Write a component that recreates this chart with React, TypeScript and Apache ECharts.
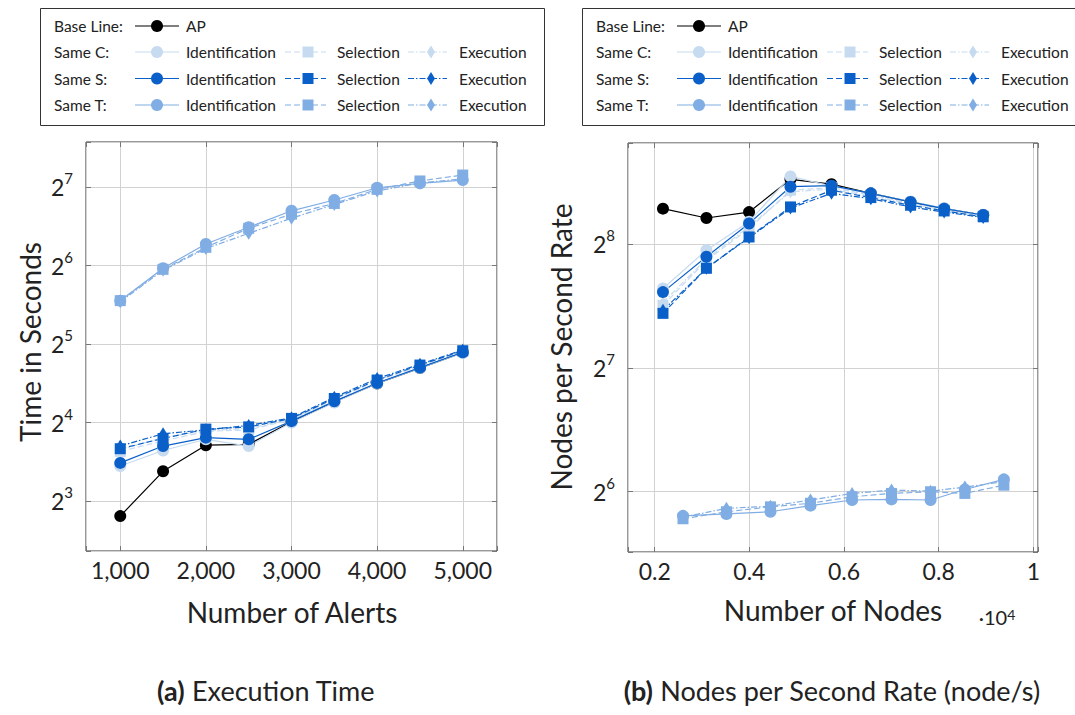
import React, { useEffect, useRef } from "react";
import * as echarts from "echarts";

// ---------- data ----------
const alerts = [1000, 1500, 2000, 2500, 3000, 3500, 4000, 4500, 5000];
const timeAP = [7.0, 10.4, 13.1, 13.2, 16.1, 19.2, 22.6, 25.9, 29.7];
const timeC_Id = [10.9, 12.5, 13.8, 13.0, 16.0, 19.1, 22.6, 25.9, 29.6];
const timeC_Sel = [12.4, 13.6, 14.8, 15.0, 16.4, 19.6, 23.1, 26.4, 30.0];
const timeC_Exe = [12.6, 14.0, 14.9, 15.2, 16.5, 19.8, 23.3, 26.6, 30.2];
const timeS_Id = [11.2, 13.0, 14.0, 13.8, 16.2, 19.3, 22.7, 26.0, 29.8];
const timeS_Sel = [12.7, 13.9, 15.1, 15.4, 16.6, 19.8, 23.3, 26.6, 30.2];
const timeS_Exe = [13.0, 14.5, 15.0, 15.6, 16.7, 20.0, 23.6, 26.8, 30.4];
const timeT_Id = [47.0, 62.6, 77.6, 89.9, 104, 114.4, 127.5, 132.6, 136.5];
const timeT_Sel = [47.0, 62.0, 75.3, 89.1, 101, 111, 125.7, 135.4, 142.7];
const timeT_Exe = [46.5, 61.5, 74.5, 85.2, 97.4, 110, 124, 133, 138];

const nodesCS = [2175, 3093, 3994, 4869, 5736, 6567, 7406, 8116, 8941];
const nodesT = [2598, 3516, 4446, 5292, 6171, 7004, 7829, 8554, 9378];
const rateAP = [313, 297, 307, 369, 359, 341, 325, 313, 302];
const rateC_Id = [200, 248, 291, 375, 355, 341, 326, 314, 302];
const rateC_Sel = [182, 234, 280, 347, 352, 338, 323, 311, 301];
const rateC_Exe = [185, 236, 283, 344, 349, 335, 322, 310, 300];
const rateS_Id = [196, 239, 288, 354, 356, 341, 325, 313, 302];
const rateS_Sel = [174, 224, 267, 316, 347, 333, 319, 309, 299];
const rateS_Exe = [177, 224, 266, 314, 341, 331, 316, 307, 298];
const rateT_Id = [55.9, 56.5, 57.2, 59.2, 61.1, 61.3, 61.1, 64.8, 68.6];
const rateT_Sel = [55.0, 57.2, 58.8, 60.0, 62.2, 63.4, 64.0, 63.4, 66.4];
const rateT_Exe = [55.5, 58.3, 59.0, 61.1, 63.4, 64.6, 64.2, 65.7, 67.7];

// ---------- styles ----------
const FONT = "Lato";
const TXT = "#222";
const COL_AP = "#000000";
const COL_C = "#c6dbf0";
const COL_S = "#0a60c8";
const COL_T = "#80ade3";
const DASH = [6, 3];
const DASHDOT = [6, 2, 1.5, 2];
const GRIDC = "#d2d2d2";

const supLabel = (v: number) => {
  const p = Math.log2(v);
  const r = Math.round(p);
  if (Math.abs(p - r) > 1e-3) return "";
  return `{b|2}{s|${r}}`;
};
const supRich = {
  b: { fontSize: 23, fontFamily: FONT, color: TXT, lineHeight: 33 },
  s: { fontSize: 15, fontFamily: FONT, color: TXT, verticalAlign: "top", lineHeight: 15 },
};

const pair = (xs: number[], ys: number[]) => xs.map((x, i) => [x, ys[i]]);

export default function App() {
  const ref = useRef<HTMLDivElement>(null);
  useEffect(() => {
    const chart = echarts.init(ref.current!, null, { renderer: "svg" });

    const mk = (
      name: string,
      data: number[][],
      color: string,
      symbol: string,
      dash: any,
      xi: number,
      yi: number
    ) => ({
      name,
      type: "line",
      xAxisIndex: xi,
      yAxisIndex: yi,
      data,
      symbol,
      symbolSize: symbol === "circle" ? 12 : symbol === "rect" ? 11 : [8, 13],
      showSymbol: true,
      itemStyle: { color },
      lineStyle: { color, width: 1.2, type: dash },
      emphasis: { disabled: true },
    });

    const tA = (ys: number[]) => pair(alerts, ys);
    const series = [
      mk("AP", tA(timeAP), COL_AP, "circle", "solid", 0, 0),
      mk("C Id", tA(timeC_Id), COL_C, "circle", "solid", 0, 0),
      mk("C Sel", tA(timeC_Sel), COL_C, "rect", DASH, 0, 0),
      mk("C Exe", tA(timeC_Exe), COL_C, "diamond", DASHDOT, 0, 0),
      mk("S Id", tA(timeS_Id), COL_S, "circle", "solid", 0, 0),
      mk("S Sel", tA(timeS_Sel), COL_S, "rect", DASH, 0, 0),
      mk("S Exe", tA(timeS_Exe), COL_S, "diamond", DASHDOT, 0, 0),
      mk("T Id", tA(timeT_Id), COL_T, "circle", "solid", 0, 0),
      mk("T Sel", tA(timeT_Sel), COL_T, "rect", DASH, 0, 0),
      mk("T Exe", tA(timeT_Exe), COL_T, "diamond", DASHDOT, 0, 0),

      mk("AP r", pair(nodesCS, rateAP), COL_AP, "circle", "solid", 2, 2),
      mk("C Id r", pair(nodesCS, rateC_Id), COL_C, "circle", "solid", 2, 2),
      mk("C Sel r", pair(nodesCS, rateC_Sel), COL_C, "rect", DASH, 2, 2),
      mk("C Exe r", pair(nodesCS, rateC_Exe), COL_C, "diamond", DASHDOT, 2, 2),
      mk("S Id r", pair(nodesCS, rateS_Id), COL_S, "circle", "solid", 2, 2),
      mk("S Sel r", pair(nodesCS, rateS_Sel), COL_S, "rect", DASH, 2, 2),
      mk("S Exe r", pair(nodesCS, rateS_Exe), COL_S, "diamond", DASHDOT, 2, 2),
      mk("T Id r", pair(nodesT, rateT_Id), COL_T, "circle", "solid", 2, 2),
      mk("T Sel r", pair(nodesT, rateT_Sel), COL_T, "rect", DASH, 2, 2),
      mk("T Exe r", pair(nodesT, rateT_Exe), COL_T, "diamond", DASHDOT, 2, 2),
    ];

    const tickIn = { show: true, inside: true, length: 5, lineStyle: { color: "#777", width: 1 } };
    const L_XMIN = 600, L_XMAX = 5400;
    const L_YMIN = Math.pow(2, 2.362), L_YMAX = Math.pow(2, 7.578);
    const R_XMIN = 1436, R_XMAX = 10099;
    const R_YMIN = Math.pow(2, 5.5125), R_YMAX = Math.pow(2, 8.821);

    const xLabelL = (v: number) => (v % 1000 === 0 ? v.toLocaleString("en-US") : "");
    const xLabelR = (v: number) => (v % 2000 === 0 ? String(+(v / 10000).toFixed(1)) : "");

    const xBase = (grid: number, min: number, max: number, fmt: any) => ({
      type: "value",
      gridIndex: grid,
      min,
      max,
      splitNumber: 5,
      position: "bottom",
      axisLine: { show: false },
      axisTick: tickIn,
      axisLabel: { formatter: fmt, fontSize: 23, fontFamily: FONT, color: TXT, margin: 7 },
      splitLine: { show: true, lineStyle: { color: GRIDC, width: 1 } },
    });
    const xTop = (grid: number, min: number, max: number) => ({
      type: "value",
      gridIndex: grid,
      min,
      max,
      splitNumber: 5,
      position: "top",
      axisLine: { show: false },
      axisTick: tickIn,
      axisLabel: { show: false },
      splitLine: { show: false },
    });
    const yBase = (grid: number, min: number, max: number) => ({
      type: "log",
      logBase: 2,
      gridIndex: grid,
      min,
      max,
      splitNumber: 5,
      position: "left",
      axisLine: { show: false },
      axisTick: tickIn,
      axisLabel: { formatter: supLabel, rich: supRich, margin: 13 },
      splitLine: { show: true, lineStyle: { color: GRIDC, width: 1 } },
    });
    const yRight = (grid: number, min: number, max: number) => ({
      type: "log",
      logBase: 2,
      gridIndex: grid,
      min,
      max,
      splitNumber: 5,
      position: "right",
      axisLine: { show: false },
      axisTick: tickIn,
      axisLabel: { show: false },
      splitLine: { show: false },
    });

    // legend
    const rowsY = [26, 52, 78.5, 105];
    const legendRows = [
      { label: "Base Line:", items: [{ c: COL_AP, s: "circle", d: null, t: "AP" }] },
      {
        label: "Same C:",
        items: [
          { c: COL_C, s: "circle", d: null, t: "Identification" },
          { c: COL_C, s: "rect", d: DASH, t: "Selection" },
          { c: COL_C, s: "diamond", d: DASHDOT, t: "Execution" },
        ],
      },
      {
        label: "Same S:",
        items: [
          { c: COL_S, s: "circle", d: null, t: "Identification" },
          { c: COL_S, s: "rect", d: DASH, t: "Selection" },
          { c: COL_S, s: "diamond", d: DASHDOT, t: "Execution" },
        ],
      },
      {
        label: "Same T:",
        items: [
          { c: COL_T, s: "circle", d: null, t: "Identification" },
          { c: COL_T, s: "rect", d: DASH, t: "Selection" },
          { c: COL_T, s: "diamond", d: DASHDOT, t: "Execution" },
        ],
      },
    ];
    const cols = [
      { x1: 95, x2: 139, m: 117, t: 146 },
      { x1: 245, x2: 286, m: 268, t: 297 },
      { x1: 368, x2: 407, m: 391, t: 419 },
    ];
    const LFS = 15.5;
    const legend = (L: number, W: number) => {
      const els: any[] = [
        {
          type: "rect",
          shape: { x: L + 0.5, y: 8.5, width: W, height: 117 },
          style: { fill: "#fff", stroke: "#333", lineWidth: 1 },
        },
      ];
      legendRows.forEach((row, ri) => {
        const y = rowsY[ri];
        els.push({
          type: "text",
          x: L + 14,
          y,
          style: { text: row.label, fontSize: LFS, fontFamily: FONT, fill: TXT, verticalAlign: "middle", align: "left" },
        });
        row.items.forEach((it, ci) => {
          const c = cols[ci];
          els.push({
            type: "line",
            shape: { x1: L + c.x1, y1: y, x2: L + c.x2, y2: y },
            style: { stroke: it.c, lineWidth: 1.2, lineDash: it.d || undefined },
          });
          const mx = L + c.m;
          if (it.s === "circle") {
            els.push({ type: "circle", shape: { cx: mx, cy: y, r: 6 }, style: { fill: it.c } });
          } else if (it.s === "rect") {
            els.push({ type: "rect", shape: { x: mx - 5.5, y: y - 5.5, width: 11, height: 11 }, style: { fill: it.c } });
          } else {
            els.push({
              type: "polygon",
              shape: { points: [[mx, y - 6.5], [mx + 4, y], [mx, y + 6.5], [mx - 4, y]] },
              style: { fill: it.c },
            });
          }
          els.push({
            type: "text",
            x: L + c.t,
            y,
            style: { text: it.t, fontSize: LFS, fontFamily: FONT, fill: TXT, verticalAlign: "middle", align: "left" },
          });
        });
      });
      return els;
    };

    const txt = (text: string, x: number, y: number, size: number, extra: any = {}) => ({
      type: "text",
      x,
      y,
      ...extra,
      style: { text, fontSize: size, fontFamily: FONT, fill: TXT, align: "center", verticalAlign: "middle", ...(extra.style || {}) },
    });

    const CAP = 27;
    const graphic = [
      ...legend(40, 504),
      ...legend(582, 500),
      txt("Number of Alerts", 292, 612, 28),
      txt("Number of Nodes", 833, 610, 28),
      {
        type: "text",
        x: 997,
        y: 617,
        style: {
          text: "·10{s|4}",
          fontSize: 20,
          fontFamily: FONT,
          fill: TXT,
          align: "center",
          verticalAlign: "middle",
          rich: { s: { fontSize: 14, fontFamily: FONT, fill: TXT, verticalAlign: "top", lineHeight: 14 } },
        },
      },
      txt("Time in Seconds", 30, 342, 28, { rotation: Math.PI / 2 }),
      txt("Nodes per Second Rate", 561, 347, 28, { rotation: Math.PI / 2 }),
      {
        type: "text",
        x: 266,
        y: 690,
        style: {
          text: "{b|(a)} Execution Time",
          fontSize: CAP,
          fontFamily: FONT,
          fill: TXT,
          align: "center",
          verticalAlign: "middle",
          rich: { b: { fontSize: CAP, fontFamily: FONT, fontWeight: "bold", fill: TXT } },
        },
      },
      {
        type: "text",
        x: 832,
        y: 690,
        style: {
          text: "{b|(b)} Nodes per Second Rate (node/s)",
          fontSize: CAP,
          fontFamily: FONT,
          fill: TXT,
          align: "center",
          verticalAlign: "middle",
          rich: { b: { fontSize: CAP, fontFamily: FONT, fontWeight: "bold", fill: TXT } },
        },
      },
    ];

    chart.setOption({
      animation: false,
      backgroundColor: "#fff",
      grid: [
        { left: 86, top: 142, width: 411, height: 409, show: true, borderColor: "#333", borderWidth: 1, backgroundColor: "transparent" },
        { left: 628, top: 143, width: 410, height: 409, show: true, borderColor: "#333", borderWidth: 1, backgroundColor: "transparent" },
      ],
      xAxis: [
        xBase(0, L_XMIN, L_XMAX, xLabelL),
        xTop(0, L_XMIN, L_XMAX),
        xBase(1, R_XMIN, R_XMAX, xLabelR),
        xTop(1, R_XMIN, R_XMAX),
      ],
      yAxis: [
        yBase(0, L_YMIN, L_YMAX),
        yRight(0, L_YMIN, L_YMAX),
        yBase(1, R_YMIN, R_YMAX),
        yRight(1, R_YMIN, R_YMAX),
      ],
      series,
      graphic,
    });
    return () => chart.dispose();
  }, []);
  return (
    <div
      ref={ref}
      style={{ position: "fixed", left: 0, top: 0, width: 1075, height: 715, background: "#fff" }}
    />
  );
}
